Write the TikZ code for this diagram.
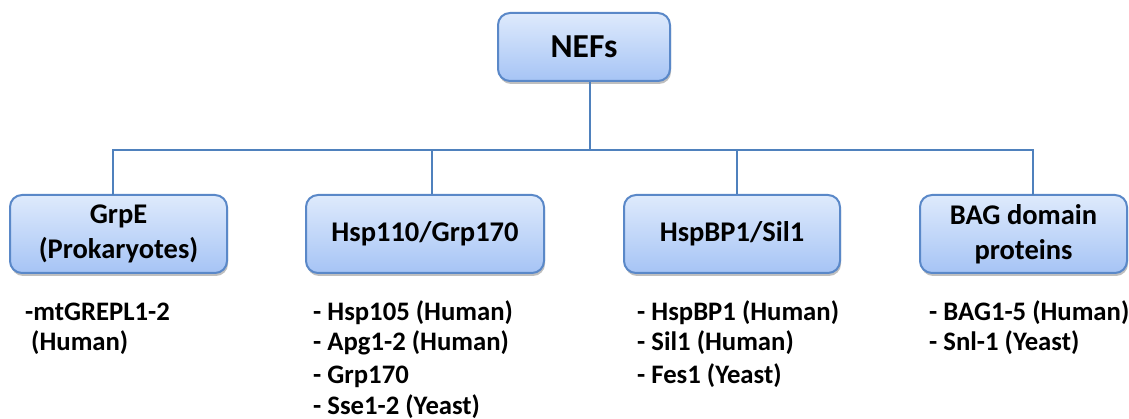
\documentclass[tikz,border=0pt]{standalone}
\usepackage{fontspec}
\setmainfont{Carlito}
\usetikzlibrary{shadows}
\definecolor{lineblue}{HTML}{4F81BD}
\definecolor{boxborder}{HTML}{5A88C8}
\definecolor{boxtop}{HTML}{DEEAFC}
\definecolor{boxbot}{HTML}{A6C4F5}
\tikzset{
  nefbox/.style={draw=boxborder, line width=2pt, rounded corners=12pt,
    top color=boxtop, bottom color=boxbot, align=center, inner sep=0pt,
    font=\bfseries\fontsize{28.5}{35}\selectfont,
    drop shadow={shadow xshift=1pt, shadow yshift=-3pt, opacity=0.25, fill=black}},
  conn/.style={draw=lineblue, line width=2.6pt},
  item/.style={anchor=base west, inner sep=0pt, font=\bfseries\fontsize{26.7}{31}\selectfont}
}
\begin{document}
\begin{tikzpicture}[x=1pt,y=-1pt]
\useasboundingbox (0,0) rectangle (1129,419);
% top box
\node[nefbox, minimum width=172pt, minimum height=68pt, font=\bfseries\fontsize{33.5}{40}\selectfont] (nefs) at (584,47) {NEFs};
% child boxes
\node[nefbox, minimum width=217pt, minimum height=78pt] (grpe) at (118.5,234) {GrpE\\(Prokaryotes)};
\node[nefbox, minimum width=238pt, minimum height=78pt] (hsp) at (425,234) {Hsp110/Grp170};
\node[nefbox, minimum width=216pt, minimum height=78pt] (bp) at (732,234) {HspBP1/Sil1};
\node[nefbox, minimum width=207pt, minimum height=78pt] (bag) at (1023.5,234) {BAG domain\\proteins};
% connectors
\coordinate (hub) at (590,150);
\coordinate (lend) at (113,150);
\coordinate (rend) at (1033,150);
\draw[conn] ([xshift=6pt]nefs.south) -- (hub);
\draw[conn, line cap=rect] ([xshift=-5.5pt]grpe.north) |- (lend) -- (rend) -| ([xshift=9.5pt]bag.north);
\draw[conn] ([xshift=7pt]hsp.north) -- ([xshift=7pt]hsp.north |- hub);
\draw[conn] ([xshift=5pt]bp.north) -- ([xshift=5pt]bp.north |- hub);
% lists
\node[item] (g1) at (25,320) {-mtGREPL1-2};
\node[item] (g2) at (25,351) {\ (Human)};
\node[item] (h1) at (313,320) {- Hsp105 (Human)};
\node[item] (h2) at (313,351) {- Apg1-2 (Human)};
\node[item] (h3) at (313,383) {- Grp170};
\node[item] (h4) at (313,414) {- Sse1-2 (Yeast)};
\node[item] (b1) at (637,320) {- HspBP1 (Human)};
\node[item] (b2) at (637,351) {- Sil1 (Human)};
\node[item] (b3) at (637,383) {- Fes1 (Yeast)};
\node[item] (a1) at (929,320) {- BAG1-5 (Human)};
\node[item] (a2) at (929,351) {- Snl-1 (Yeast)};
\end{tikzpicture}
\end{document}
